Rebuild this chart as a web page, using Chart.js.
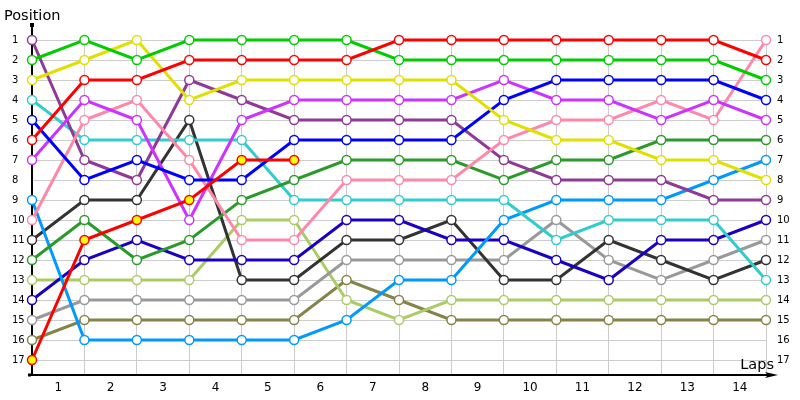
<!DOCTYPE html>
<html>
<head>
<meta charset="utf-8">
<script src="https://cdn.jsdelivr.net/npm/chart.js@4.4.0/dist/chart.umd.min.js"></script>
<style>
  html, body { margin: 0; padding: 0; background: #fff; }
</style>
</head>
<body>
<canvas id="grafica_vueltas" width="800" height="400"></canvas>
<script>
// vueltas (eje x) y posiciones (eje y)
const laps = [0, 1, 2, 3, 4, 5, 6, 7, 8, 9, 10, 11, 12, 13, 14];
const lapLabels = ['1', '2', '3', '4', '5', '6', '7', '8', '9', '10', '11', '12', '13', '14'];
const positions = [1, 2, 3, 4, 5, 6, 7, 8, 9, 10, 11, 12, 13, 14, 15, 16, 17];

// posicion de cada piloto por vuelta
const rojo       = [6, 3, 3, 2, 2, 2, 2, 1, 1, 1, 1, 1, 1, 1, 2];
const verde      = [2, 1, 2, 1, 1, 1, 1, 2, 2, 2, 2, 2, 2, 2, 3];
const amarillo   = [3, 2, 1, 4, 3, 3, 3, 3, 3, 5, 6, 6, 7, 7, 8];
const turquesa   = [4, 6, 6, 6, 6, 9, 9, 9, 9, 9, 11, 10, 10, 10, 13];
const azul       = [5, 8, 7, 8, 8, 6, 6, 6, 6, 4, 3, 3, 3, 3, 4];
const morado     = [1, 7, 8, 3, 4, 5, 5, 5, 5, 7, 8, 8, 8, 9, 9];
const violeta    = [7, 4, 5, 10, 5, 4, 4, 4, 4, 3, 4, 4, 5, 4, 5];
const rosa       = [10, 5, 4, 7, 11, 11, 8, 8, 8, 6, 5, 5, 4, 5, 1];
const negro      = [11, 9, 9, 5, 13, 13, 11, 11, 10, 13, 13, 11, 12, 13, 12];
const verdeOsc   = [12, 10, 12, 11, 9, 8, 7, 7, 7, 8, 7, 7, 6, 6, 6];
const rojoRetiro = [17, 11, 10, 9, 7, 7];
const marino     = [14, 12, 11, 12, 12, 12, 10, 10, 11, 11, 12, 13, 11, 11, 10];
const verdeClaro = [13, 13, 13, 13, 10, 10, 14, 15, 14, 14, 14, 14, 14, 14, 14];
const gris       = [15, 14, 14, 14, 14, 14, 12, 12, 12, 12, 10, 12, 13, 12, 11];
const oliva      = [16, 15, 15, 15, 15, 15, 13, 14, 15, 15, 15, 15, 15, 15, 15];
const celeste    = [9, 16, 16, 16, 16, 16, 15, 13, 13, 10, 9, 9, 9, 8, 7];

const fuente = 'DejaVu Sans, sans-serif';

function linea(data, color, relleno) {
  return {
    data: data,
    borderColor: color,
    borderWidth: 3,
    pointRadius: 4.5,
    pointBorderWidth: 1.5,
    pointBorderColor: color,
    pointBackgroundColor: relleno || '#ffffff',
    tension: 0,
    clip: false
  };
}

const ejes = {
  id: 'ejes',
  beforeDatasetsDraw(chart) {
    const { ctx, chartArea: a } = chart;
    ctx.save();
    ctx.strokeStyle = '#000';
    ctx.fillStyle = '#000';
    ctx.lineWidth = 2;
    ctx.beginPath();
    ctx.moveTo(a.left, a.bottom);
    ctx.lineTo(a.left, a.top - 12);
    ctx.moveTo(a.left - 2, a.bottom);
    ctx.lineTo(a.right + 4, a.bottom);
    ctx.stroke();
    // punta de flecha
    ctx.beginPath();
    ctx.moveTo(a.right + 12, a.bottom);
    ctx.lineTo(a.right - 1, a.bottom - 3);
    ctx.lineTo(a.right + 2, a.bottom);
    ctx.lineTo(a.right - 1, a.bottom + 3);
    ctx.closePath();
    ctx.fill();
    ctx.fillRect(a.left - 2, a.top - 14, 4, 4);
    ctx.fillRect(a.left - 4, a.bottom - 1.5, 3, 3);
    ctx.restore();
  },
  afterDraw(chart) {
    const { ctx, chartArea: a } = chart;
    ctx.save();
    ctx.fillStyle = '#000';
    ctx.font = '14.5px ' + fuente;
    ctx.textBaseline = 'alphabetic';
    ctx.textAlign = 'left';
    ctx.fillText('Position', 4, 20);
    ctx.textAlign = 'right';
    ctx.fillText('Laps', a.right + 8, a.bottom - 6);
    ctx.restore();
  }
};

const escalaY = {
  type: 'linear',
  reverse: true,
  min: 0.85,
  max: 17.75,
  afterBuildTicks: s => { s.ticks = positions.map(v => ({ value: v })); },
  border: { display: false },
  ticks: { color: '#000', font: { family: fuente, size: 10 }, autoSkip: false }
};

new Chart(document.getElementById('grafica_vueltas').getContext('2d'), {
  type: 'line',
  data: {
    labels: laps,
    datasets: [
      linea(rojoRetiro, '#ff0000', '#ffff00'),
      linea(rojo, '#ff0000'),
      linea(verde, '#00cc00'),
      linea(amarillo, '#e0e000'),
      linea(azul, '#0000ff'),
      linea(violeta, '#cc33ff'),
      linea(rosa, '#ff88aa'),
      linea(morado, '#8e3a96'),
      linea(verdeOsc, '#2a9a2a'),
      linea(turquesa, '#33cccc'),
      linea(celeste, '#0099ff'),
      linea(marino, '#1a00c0'),
      linea(negro, '#333333'),
      linea(gris, '#999999'),
      linea(verdeClaro, '#aacc66'),
      linea(oliva, '#848448')
    ]
  },
  options: {
    responsive: false,
    animation: false,
    events: [],
    layout: { padding: { left: 12, top: 37, right: 0, bottom: 0 } },
    plugins: {
      legend: { display: false },
      tooltip: { enabled: false }
    },
    scales: {
      x: {
        type: 'linear',
        min: 0,
        max: 14,
        afterBuildTicks: s => {
          const t = laps.map(v => ({ value: v }));
          lapLabels.forEach((l, i) => t.push({ value: i + 0.5 }));
          s.ticks = t.sort((p, q) => p.value - q.value);
        },
        afterFit: s => { s.height = 25; },
        border: { display: false },
        grid: {
          drawTicks: false,
          color: c => (c.tick && Number.isInteger(c.tick.value)) ? '#cccccc' : 'rgba(0,0,0,0)'
        },
        ticks: {
          autoSkip: false,
          maxRotation: 0,
          padding: 6,
          color: '#000',
          font: { family: fuente, size: 12 },
          callback: v => Number.isInteger(v) ? '' : lapLabels[v - 0.5]
        }
      },
      y: Object.assign({}, escalaY, {
        position: 'left',
        afterFit: s => { s.width = 20; },
        grid: { color: '#cccccc', drawTicks: false },
        ticks: Object.assign({}, escalaY.ticks, { crossAlign: 'far' })
      }),
      y2: Object.assign({}, escalaY, {
        position: 'right',
        afterFit: s => { s.width = 34; },
        grid: { display: false, drawTicks: false },
        ticks: Object.assign({}, escalaY.ticks, { padding: 11 })
      })
    }
  },
  plugins: [ejes]
});
</script>
</body>
</html>
